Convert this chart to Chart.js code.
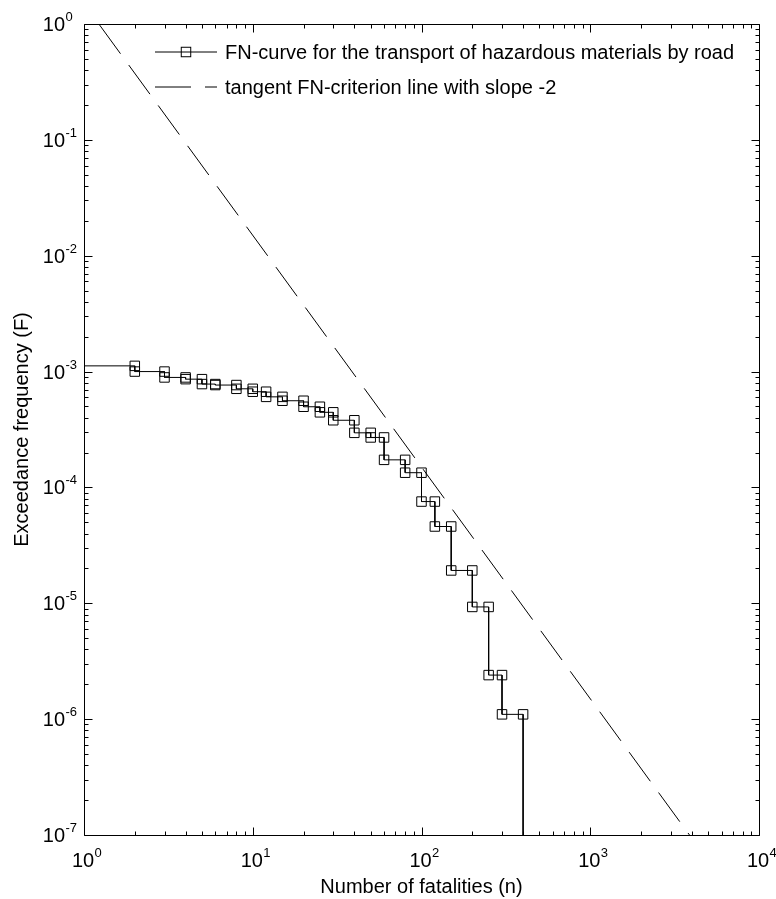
<!DOCTYPE html>
<html>
<head>
<meta charset="utf-8">
<script src="https://cdn.jsdelivr.net/npm/chart.js@4.4.1/dist/chart.umd.min.js"></script>
<style>
  html, body { margin: 0; padding: 0; background: #fff; }
  #wrap { width: 776px; height: 899px; position: relative; }
</style>
</head>
<body>
<div id="wrap"><canvas id="fnChart"></canvas></div>
<script>
// FN-curve: frequency left after each step
const startFatalities = 1;
const startFrequency = 1.12e-3;
const fatalities = [2, 3, 4, 5, 6, 8, 10, 12, 15, 20, 25, 30, 40, 50, 60, 80, 100, 120, 150, 200, 250, 300, 400];
const frequencies = [1.0e-3, 8.9e-4, 8.6e-4, 7.8e-4, 7.65e-4, 7.1e-4, 6.7e-4, 6.05e-4, 5.6e-4, 4.97e-4, 4.45e-4,
  3.8e-4, 2.96e-4, 2.7e-4, 1.73e-4, 1.34e-4, 7.55e-5, 4.6e-5, 1.92e-5, 9.3e-6, 2.4e-6, 1.1e-6, 1e-12];

// criterion line F = 1.5 / n^2, endpoints
const tangentFatalities = [1, 10000];
const tangentFrequencies = [1.5, 1.5e-8];

const xDecades = [0, 1, 2, 3, 4];
const yDecades = [0, -1, -2, -3, -4, -5, -6, -7];
const seriesLabels = ['FN-curve for the transport of hazardous materials by road', 'tangent FN-criterion line with slope -2'];
const xTitle = 'Number of fatalities (n)';
const yTitle = 'Exceedance frequency (F)';

const FONT = '"Liberation Sans", Arial, sans-serif';
const markerRadius = 6.7;
const dashPattern = [36, 14];

// corners of the staircase, a marker on each one
const stepPoints = [{ x: startFatalities, y: startFrequency }];
const stepRadius = [0];
let prev = startFrequency;
fatalities.forEach((n, i) => {
  stepPoints.push({ x: n, y: prev }, { x: n, y: frequencies[i] });
  stepRadius.push(markerRadius, frequencies[i] > 1e-7 ? markerRadius : 0);
  prev = frequencies[i];
});
const tangentPoints = tangentFatalities.map((n, i) => ({ x: n, y: tangentFrequencies[i] }));

function drawPower(ctx, exp, x, y, centered) {
  ctx.font = '20px ' + FONT;
  const w = ctx.measureText('10').width;
  const left = centered ? x - w / 2 : x - w;
  ctx.fillText('10', left, y);
  ctx.font = '13px ' + FONT;
  ctx.fillText(String(exp), left + w + 0.5, y - 10);
}

const axesPlugin = {
  id: 'matlabAxes',
  afterDatasetsDraw(chart) {
    const { ctx, chartArea: a, scales: { x, y } } = chart;
    ctx.save();
    ctx.strokeStyle = '#000';
    ctx.fillStyle = '#000';
    ctx.lineWidth = 1;
    const L = Math.round(a.left) + 0.5, R = Math.round(a.right) + 0.5;
    const T = Math.round(a.top) + 0.5, B = Math.round(a.bottom) + 0.5;
    ctx.beginPath();
    ctx.rect(L, T, R - L, B - T);
    ctx.stroke();

    // inward ticks on all four sides
    ctx.beginPath();
    xDecades.forEach((d, i) => {
      for (let k = 1; k <= 9; k++) {
        if (i === xDecades.length - 1 && k > 1) break;
        const px = Math.round(x.getPixelForValue(k * Math.pow(10, d))) + 0.5;
        const len = k === 1 ? 8 : 4;
        ctx.moveTo(px, B); ctx.lineTo(px, B - len);
        ctx.moveTo(px, T); ctx.lineTo(px, T + len);
      }
    });
    yDecades.forEach((d, i) => {
      for (let k = 1; k <= 9; k++) {
        if (i === 0 && k > 1) break;
        const py = Math.round(y.getPixelForValue(k * Math.pow(10, d))) + 0.5;
        const len = k === 1 ? 8 : 4;
        ctx.moveTo(L, py); ctx.lineTo(L + len, py);
        ctx.moveTo(R, py); ctx.lineTo(R - len, py);
      }
    });
    ctx.stroke();

    ctx.textBaseline = 'alphabetic';
    xDecades.forEach(d => drawPower(ctx, d, x.getPixelForValue(Math.pow(10, d)) - 1, 867, true));
    yDecades.forEach(d => drawPower(ctx, d, 65, y.getPixelForValue(Math.pow(10, d)) + 7, false));

    ctx.font = '20px ' + FONT;
    ctx.textAlign = 'center';
    ctx.fillText(xTitle, (a.left + a.right) / 2, 893);
    ctx.save();
    ctx.translate(28, (a.top + a.bottom) / 2);
    ctx.rotate(-Math.PI / 2);
    ctx.fillText(yTitle, 0, 0);
    ctx.restore();

    // legend
    ctx.textAlign = 'left';
    const rows = [52, 87];
    const x0 = 155, x1 = 217;
    ctx.beginPath();
    ctx.moveTo(x0, rows[0]); ctx.lineTo(x1, rows[0]);
    ctx.stroke();
    const s = markerRadius * Math.SQRT1_2;
    ctx.strokeRect((x0 + x1) / 2 - s, rows[0] - s, 2 * s, 2 * s);
    ctx.setLineDash(dashPattern);
    ctx.beginPath();
    ctx.moveTo(x0, rows[1]); ctx.lineTo(x1, rows[1]);
    ctx.stroke();
    ctx.setLineDash([]);
    seriesLabels.forEach((t, i) => ctx.fillText(t, 225, rows[i] + 7));
    ctx.restore();
  }
};

new Chart(document.getElementById('fnChart'), {
  type: 'scatter',
  data: {
    datasets: [
      {
        label: seriesLabels[0],
        data: stepPoints,
        showLine: true,
        borderColor: '#000',
        borderWidth: 1,
        pointStyle: 'rect',
        pointRadius: stepRadius,
        pointBorderColor: '#000',
        pointBackgroundColor: 'rgba(0,0,0,0)',
        pointBorderWidth: 1
      },
      {
        label: seriesLabels[1],
        data: tangentPoints,
        showLine: true,
        borderColor: '#000',
        borderWidth: 1,
        borderDash: dashPattern,
        borderDashOffset: 24,
        pointRadius: 0
      }
    ]
  },
  options: {
    responsive: true,
    maintainAspectRatio: false,
    animation: false,
    events: [],
    layout: { padding: { left: 84, top: 24, right: 17, bottom: 64 } },
    plugins: { legend: { display: false }, tooltip: { enabled: false } },
    scales: {
      x: { type: 'logarithmic', min: 1, max: 10000, display: false },
      y: { type: 'logarithmic', min: 1e-7, max: 1, display: false }
    }
  },
  plugins: [axesPlugin]
});
</script>
</body>
</html>
